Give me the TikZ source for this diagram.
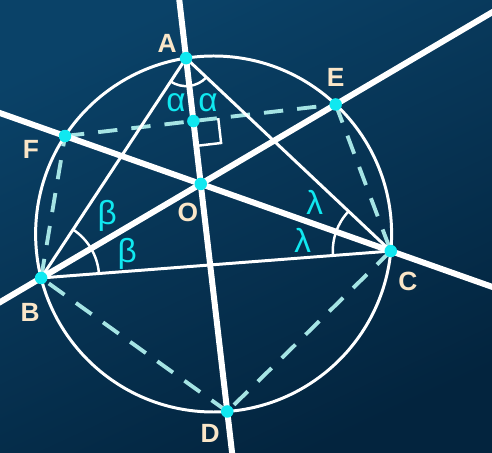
\documentclass[tikz,border=0pt]{standalone}
\usepackage{fontspec}
\setmainfont{Liberation Sans}
\usetikzlibrary{calc,angles}
\definecolor{bgtop}{RGB}{10,66,104}
\definecolor{bgbot}{RGB}{3,36,62}
\definecolor{dotcyan}{RGB}{16,232,240}
\definecolor{chordcyan}{RGB}{165,228,228}
\definecolor{lblbeige}{RGB}{250,230,200}
\tikzset{
  bisector/.style={white, line width=3.4pt},
  side/.style={white, line width=1.7pt},
  chord/.style={chordcyan, line width=2.2pt, dash pattern=on 11pt off 8pt},
  anglearc/.style={draw=white, line width=1.4pt},
  pt/.style={circle, fill=dotcyan, inner sep=0pt, minimum size=0.25cm},
  lbl/.style={text=lblbeige, font=\bfseries\fontsize{15}{15}\selectfont},
  greek/.style={text=dotcyan, font=\fontsize{19}{19}\selectfont}
}

\begin{document}
\begin{tikzpicture}[x=0.02cm,y=0.02cm]
\useasboundingbox (0,0) rectangle (492,452);
\clip (0,0) rectangle (492,452);
% fondo
\shade[top color=bgtop, bottom color=bgbot, shading angle=25] (0,0) rectangle (492,452);
% circunferencia y puntos
\coordinate (Z) at (213.6,218);
\coordinate (A) at ($(Z)+(98.9:178)$);
\coordinate (B) at ($(Z)+(194.3:178)$);
\coordinate (C) at ($(Z)+(354.5:178)$);
\coordinate (D) at ($(Z)+(274.4:178)$);
\coordinate (E) at ($(Z)+(46.7:178)$);
\coordinate (F) at ($(Z)+(146.6:178)$);
\coordinate (O) at (intersection of A--D and B--E);
\coordinate (H) at (intersection of A--D and E--F);
% cuerdas
\draw[chord] (F) -- (E);
\draw[chord] (E) -- (C);
\draw[chord] (C) -- (D);
\draw[chord] (D) -- (B);
\draw[chord] (B) -- (F);
\draw[side] (Z) circle (178);
% triangulo
\draw[side] (A) -- (B) -- (C) -- cycle;
% bisectrices
\draw[bisector] ($(A)!-1!(D)$) -- ($(D)!-1!(A)$);
\draw[bisector] ($(B)!-1!(E)$) -- ($(E)!-1!(B)$);
\draw[bisector] ($(C)!-1!(F)$) -- ($(F)!-1!(C)$);
% angulos
\pic[anglearc, angle radius=0.56cm] {angle=B--A--C};
\pic[anglearc, angle radius=1.16cm] {angle=C--B--A};
\pic[anglearc, angle radius=1.16cm] {angle=A--C--B};
\pic[anglearc, angle radius=0.5cm] {right angle=E--H--D};
% puntos
\foreach \p in {A,B,C,D,E,F,O,H}
  \node[pt] (dot\p) at (\p) {};
% letras
\node[lbl] (lA) at ($(A)+(-19,15)$) {A};
\node[lbl] (lB) at ($(B)+(-11,-34)$) {B};
\node[lbl] (lC) at ($(C)+(17,-30)$) {C};
\node[lbl] (lD) at ($(D)+(-17,-22)$) {D};
\node[lbl] (lE) at ($(E)+(0,27)$) {E};
\node[lbl] (lF) at ($(F)+(-34,-13)$) {F};
\node[lbl] (lO) at ($(O)+(-13,-29)$) {O};
\node[greek] (a1) at ($(A)+(-10,-45)$) {α};
\node[greek] (a2) at ($(A)+(22,-45)$) {α};
\node[greek] (b1) at ($(B)+(66,62)$) {β};
\node[greek] (b2) at ($(B)+(86,24)$) {β};
\node[greek] (l1) at ($(C)+(-76,49)$) {λ};
\node[greek] (l2) at ($(C)+(-88,11)$) {λ};
\end{tikzpicture}
\end{document}
